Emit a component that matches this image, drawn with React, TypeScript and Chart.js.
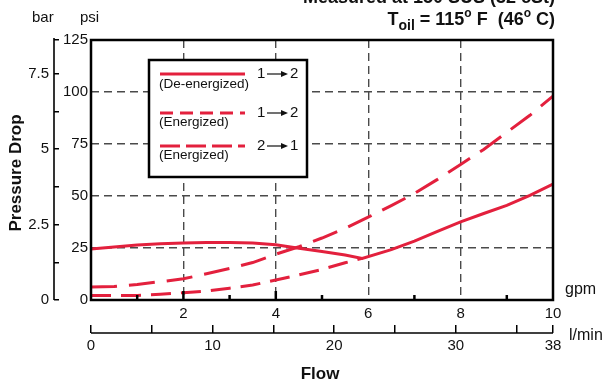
import React, { useEffect, useRef } from "react";
import { Chart, registerables } from "chart.js";

Chart.register(...registerables);

// ---------- data ----------
const deEnergizedFlow = [0, 0.5, 1, 1.5, 2, 2.5, 3, 3.5, 4, 4.5, 5, 5.5, 5.87, 6.5, 7, 7.5, 8, 8.5, 9, 9.5, 10];
const deEnergizedPsi = [24.5, 25.5, 26.4, 27.0, 27.4, 27.7, 27.7, 27.4, 26.6, 24.9, 23.3, 21.6, 20.0, 24.2, 28.3, 33.0, 37.6, 41.6, 45.5, 50.3, 55.7];

const energizedUpperFlow = [0, 0.5, 1, 1.5, 2, 2.5, 3, 3.5, 4, 4.5, 5, 5.5, 6, 6.5, 7, 7.5, 8, 8.5, 9, 9.5, 10];
const energizedUpperPsi = [6.3, 6.5, 7.5, 8.8, 10.2, 12.6, 15.2, 18.0, 22.0, 25.6, 29.8, 34.4, 39.8, 45.4, 51.2, 58.0, 65.2, 72.4, 80.6, 88.8, 98.0];

const energizedLowerFlow = [0, 0.5, 1, 1.5, 2, 2.5, 3, 3.5, 4, 4.5, 5, 5.5, 5.87];
const energizedLowerPsi = [2.2, 2.1, 2.2, 2.8, 3.5, 4.3, 5.7, 7.2, 9.6, 12.1, 14.7, 17.9, 20.0];

const gpmLabels = [2, 4, 6, 8, 10];
const gpmGrid = [2, 4, 6, 8];
const gpmMinorTicks = [1, 2, 3, 4, 5, 7, 9];
const lpmTicks = [0, 5, 10, 15, 20, 25, 30, 35, 38];
const lpmLabels = [0, 10, 20, 30, 38];
const psiGrid = [25, 50, 75, 100];
const barTicks = [0, 1.25, 2.5, 3.75, 5, 6.25, 7.5];
const barLabels = [0, 2.5, 5, 7.5];
const PSI_PER_BAR = 14.5;
const PSI_MAX = 125;

const legendNotes = ["(De-energized)", "(Energized)", "(Energized)"];
const legendFrom = ["1", "1", "2"];
const legendTo = ["2", "2", "1"];

const titleLine1 = "Measured at 150 SUS (32 cSt)";

const RED = "#E3203D";
const GRID = "#4a4a4a";
const FONT = '"Liberation Sans", Arial, Helvetica, sans-serif';

const dashes = [[], [13, 7], [20, 6]];
const seriesDash = [[], [26, 12], [20, 10]];

function drawArrow(ctx: CanvasRenderingContext2D, x1: number, x2: number, y: number) {
  ctx.save();
  ctx.setLineDash([]);
  ctx.strokeStyle = "#111";
  ctx.fillStyle = "#111";
  ctx.lineWidth = 1.2;
  ctx.beginPath();
  ctx.moveTo(x1, y);
  ctx.lineTo(x2 - 6, y);
  ctx.stroke();
  ctx.beginPath();
  ctx.moveTo(x2, y);
  ctx.lineTo(x2 - 7, y - 3);
  ctx.lineTo(x2 - 7, y + 3);
  ctx.closePath();
  ctx.fill();
  ctx.restore();
}

const decor = {
  id: "decor",
  afterDraw(chart: any) {
    const ctx: CanvasRenderingContext2D = chart.ctx;
    const { left, right, top, bottom } = chart.chartArea;
    const xs = chart.scales.x;
    const x2 = chart.scales.x2;
    const y2 = chart.scales.y2;
    ctx.save();
    ctx.setLineDash([]);
    ctx.strokeStyle = "#000";

    // plot frame
    ctx.lineWidth = 2.5;
    ctx.strokeRect(left, top, right - left, bottom - top);

    // inner minor ticks along gpm axis
    ctx.lineWidth = 2.5;
    for (const v of gpmMinorTicks) {
      const px = xs.getPixelForValue(v);
      ctx.beginPath();
      ctx.moveTo(px, bottom);
      ctx.lineTo(px, bottom - (v === 2 || v === 4 ? 9 : 5));
      ctx.stroke();
    }

    // l/min axis line
    const ly = x2.top + 8;
    ctx.lineWidth = 1.6;
    ctx.beginPath();
    ctx.moveTo(x2.getPixelForValue(0), ly);
    ctx.lineTo(x2.getPixelForValue(38), ly);
    ctx.stroke();

    // bar axis line
    const bx = y2.right - 5;
    ctx.beginPath();
    ctx.moveTo(bx, y2.getPixelForValue(0));
    ctx.lineTo(bx, y2.getPixelForValue(PSI_MAX / PSI_PER_BAR) - 2);
    ctx.stroke();

    // legend box
    const L = 149, T = 60, W = 158, H = 117;
    ctx.fillStyle = "#fff";
    ctx.fillRect(L, T, W, H);
    ctx.lineWidth = 2.5;
    ctx.strokeStyle = "#000";
    ctx.strokeRect(L, T, W, H);

    const rowY = [74, 113, 146];
    const noteY = [84, 122, 155];
    for (let i = 0; i < 3; i++) {
      ctx.save();
      ctx.strokeStyle = RED;
      ctx.lineWidth = 3;
      ctx.setLineDash(dashes[i]);
      ctx.beginPath();
      ctx.moveTo(160, rowY[i]);
      ctx.lineTo(245, rowY[i]);
      ctx.stroke();
      ctx.restore();
      ctx.fillStyle = "#111";
      ctx.font = `15px ${FONT}`;
      ctx.textBaseline = "middle";
      ctx.textAlign = "left";
      ctx.fillText(legendFrom[i], 257, rowY[i]);
      drawArrow(ctx, 267, 288, rowY[i]);
      ctx.fillText(legendTo[i], 290, rowY[i]);
      ctx.font = `13.5px ${FONT}`;
      ctx.fillText(legendNotes[i], 159, noteY[i]);
    }

    // unit labels
    ctx.fillStyle = "#111";
    ctx.textBaseline = "alphabetic";
    ctx.textAlign = "left";
    ctx.font = `15px ${FONT}`;
    ctx.fillText("bar", 32, 22);
    ctx.fillText("psi", 80, 22);
    ctx.font = `16px ${FONT}`;
    ctx.textBaseline = "middle";
    ctx.fillText("gpm", 565, 290);
    ctx.fillText("l/min", 569, 336);

    // axis titles
    ctx.font = `bold 17px ${FONT}`;
    ctx.textAlign = "center";
    ctx.fillText("Flow", 320, 374);
    ctx.save();
    ctx.translate(16, 173);
    ctx.rotate(-Math.PI / 2);
    ctx.fillText("Pressure Drop", 0, 0);
    ctx.restore();

    // title
    ctx.textAlign = "right";
    ctx.textBaseline = "alphabetic";
    ctx.font = `bold 18px ${FONT}`;
    ctx.fillText(titleLine1, 555, 3);

    const pieces = [
      { t: "T", s: 18, dy: 0 },
      { t: "oil", s: 14, dy: 5 },
      { t: " = 115", s: 18, dy: 0 },
      { t: "o", s: 12, dy: -8 },
      { t: " F  (46", s: 18, dy: 0 },
      { t: "o", s: 12, dy: -8 },
      { t: " C)", s: 18, dy: 0 },
    ];
    ctx.textAlign = "left";
    let total = 0;
    for (const p of pieces) {
      ctx.font = `bold ${p.s}px ${FONT}`;
      total += ctx.measureText(p.t).width;
    }
    let cx = 555 - total;
    for (const p of pieces) {
      ctx.font = `bold ${p.s}px ${FONT}`;
      ctx.fillText(p.t, cx, 25 + p.dy);
      cx += ctx.measureText(p.t).width;
    }
    ctx.restore();
  },
};

export default function App() {
  const ref = useRef<HTMLCanvasElement | null>(null);

  useEffect(() => {
    if (!ref.current) return;
    const tickFont = { family: FONT, size: 15 };
    const chart = new Chart(ref.current, {
      type: "line",
      data: {
        datasets: [
          {
            label: "De-energized 1→2",
            data: deEnergizedFlow.map((x, i) => ({ x, y: deEnergizedPsi[i] })),
            borderColor: RED,
            borderWidth: 3,
            pointRadius: 0,
            borderDash: seriesDash[0],
            xAxisID: "x",
            yAxisID: "y",
          },
          {
            label: "Energized 1→2",
            data: energizedUpperFlow.map((x, i) => ({ x, y: energizedUpperPsi[i] })),
            borderColor: RED,
            borderWidth: 3,
            pointRadius: 0,
            borderDash: seriesDash[1],
            xAxisID: "x",
            yAxisID: "y",
          },
          {
            label: "Energized 2→1",
            data: energizedLowerFlow.map((x, i) => ({ x, y: energizedLowerPsi[i] })),
            borderColor: RED,
            borderWidth: 3,
            pointRadius: 0,
            borderDash: seriesDash[2],
            xAxisID: "x",
            yAxisID: "y",
          },
        ],
      },
      options: {
        animation: false,
        responsive: false,
        devicePixelRatio: 1,
        layout: { padding: { top: 40, right: 54, left: 0, bottom: 0 } },
        plugins: { legend: { display: false }, tooltip: { enabled: false } },
        scales: {
          x: {
            type: "linear",
            position: "bottom",
            min: 0,
            max: 10,
            weight: 0,
            afterBuildTicks: (s: any) => {
              s.ticks = [0, 1, 2, 3, 4, 5, 6, 7, 8, 9, 10].map((v) => ({ value: v }));
            },
            afterFit: (s: any) => {
              s.height = 25;
            },
            grid: {
              drawTicks: false,
              lineWidth: 1.4,
              color: (c: any) => (gpmGrid.includes(c.tick?.value) ? GRID : "rgba(0,0,0,0)"),
            },
            border: { display: false, dash: [8, 5] },
            ticks: {
              autoSkip: false,
              maxRotation: 0,
              padding: 5,
              color: "#111",
              font: tickFont,
              callback: (v: any) => (gpmLabels.includes(v) ? String(v) : ""),
            },
          },
          x2: {
            type: "linear",
            position: "bottom",
            min: 0,
            max: 38,
            weight: 1,
            afterBuildTicks: (s: any) => {
              s.ticks = lpmTicks.map((v) => ({ value: v }));
            },
            afterFit: (s: any) => {
              s.height = 56;
            },
            grid: {
              drawOnChartArea: false,
              drawTicks: true,
              tickLength: 8,
              color: "#000",
              lineWidth: 1.5,
            },
            border: { display: false },
            ticks: {
              autoSkip: false,
              maxRotation: 0,
              padding: 4,
              color: "#111",
              font: tickFont,
              callback: (v: any) => (lpmLabels.includes(v) ? String(v) : ""),
            },
          },
          y: {
            type: "linear",
            position: "left",
            min: 0,
            max: PSI_MAX,
            weight: 0,
            afterBuildTicks: (s: any) => {
              s.ticks = [0, 25, 50, 75, 100, 125].map((v) => ({ value: v }));
            },
            afterFit: (s: any) => {
              s.width = 32;
            },
            grid: {
              drawTicks: false,
              lineWidth: 1.4,
              color: (c: any) => (psiGrid.includes(c.tick?.value) ? GRID : "rgba(0,0,0,0)"),
            },
            border: { display: false, dash: [8, 5] },
            ticks: { padding: 3, color: "#111", font: tickFont },
          },
          y2: {
            type: "linear",
            position: "left",
            min: 0,
            max: PSI_MAX / PSI_PER_BAR,
            weight: 1,
            afterBuildTicks: (s: any) => {
              s.ticks = [...barTicks, PSI_MAX / PSI_PER_BAR].map((v) => ({ value: v }));
            },
            afterFit: (s: any) => {
              s.width = 59;
            },
            grid: {
              drawOnChartArea: false,
              drawTicks: true,
              tickLength: 5,
              color: "#000",
              lineWidth: 1.5,
            },
            border: { display: false },
            ticks: {
              padding: 5,
              color: "#111",
              font: tickFont,
              callback: (v: any) => (barLabels.includes(v) ? String(v) : ""),
            },
          },
        },
      },
      plugins: [decor],
    } as any);
    return () => chart.destroy();
  }, []);

  return (
    <div style={{ position: "fixed", left: 0, top: 0, width: 607, height: 381, background: "#fff" }}>
      <canvas ref={ref} width={607} height={381} style={{ display: "block" }} />
    </div>
  );
}
